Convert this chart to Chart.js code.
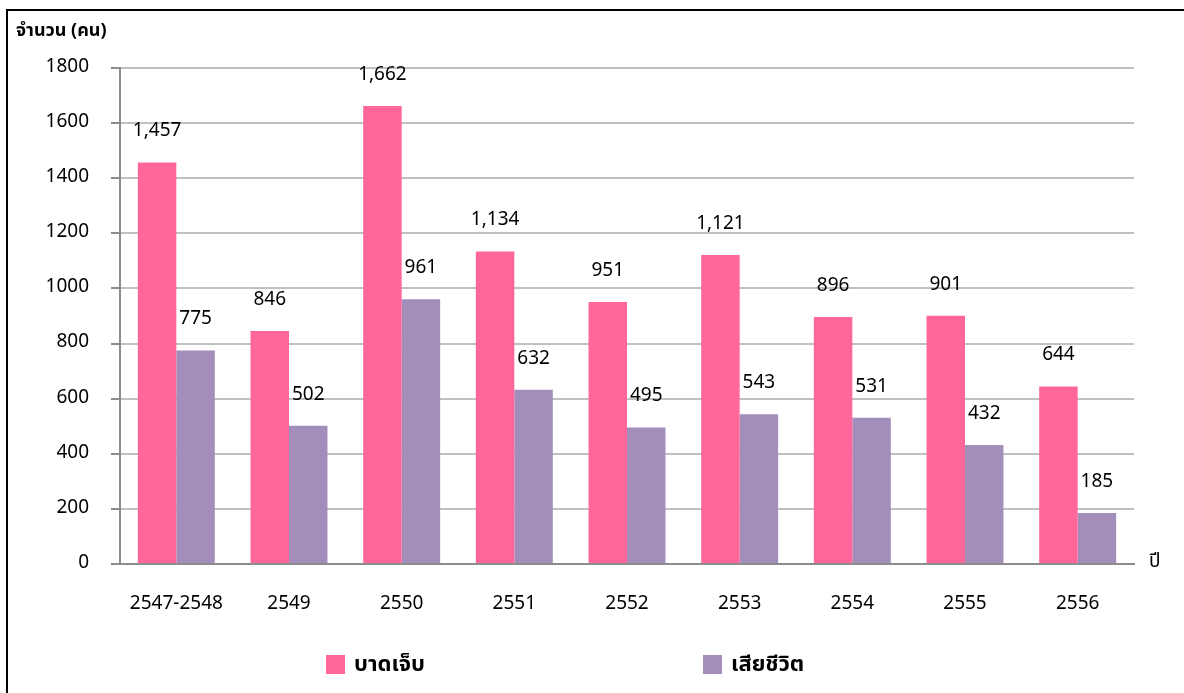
<!DOCTYPE html>
<html>
<head>
<meta charset="utf-8">
<script src="https://cdn.jsdelivr.net/npm/chart.js@4"></script>
<style>
    html, body { margin: 0; padding: 0; background: #fff; }
    body { width: 1184px; height: 693px; position: relative; overflow: hidden; font-family: Tahoma, "Noto Sans Thai", "Noto Sans", sans-serif; }
    .frame { position: absolute; left: 6px; top: 9px; right: -10px; bottom: -10px; border-left: 2px solid #000; border-top: 2px solid #000; }
    .wrap { position: absolute; left: 0; top: 0; width: 1184px; height: 693px; }
    .legend-item { position: absolute; top: 648px; display: flex; align-items: center; font-size: 22px; font-weight: bold; color: #000; }
    .legend-item span.box { display: inline-block; width: 19px; height: 19px; margin-right: 9px; }
</style>
</head>
<body>
<div class="frame"></div>
<div class="wrap"><canvas id="chart" width="1184" height="693"></canvas></div>
<div class="legend-item" style="left:326px"><span class="box" style="background:#FF6699"></span>บาดเจ็บ</div>
<div class="legend-item" style="left:703px"><span class="box" style="background:#A28DBB"></span>เสียชีวิต</div>

<script>
// Chart data
const years = ['2547-2548', '2549', '2550', '2551', '2552', '2553', '2554', '2555', '2556'];
const injured = [1457, 846, 1662, 1134, 951, 1121, 896, 901, 644];
const deaths = [775, 502, 961, 632, 495, 543, 531, 432, 185];
const yTicks = [0, 200, 400, 600, 800, 1000, 1200, 1400, 1600, 1800];

const FONT = 'Tahoma, "Noto Sans Thai", "Noto Sans", sans-serif';

// Draws value labels above bars plus the axis captions
const extraText = {
    id: 'extraText',
    afterDatasetsDraw(chart) {
        const ctx = chart.ctx;
        ctx.save();
        ctx.fillStyle = '#000';
        ctx.font = '19px ' + FONT;
        ctx.textAlign = 'center';
        ctx.textBaseline = 'middle';
        chart.data.datasets.forEach((ds, i) => {
            chart.getDatasetMeta(i).data.forEach((bar, j) => {
                ctx.fillText(ds.data[j].toLocaleString('en-US'), bar.x, bar.y - 30);
            });
        });

        // y axis caption
        ctx.textAlign = 'left';
        ctx.font = 'bold 18px ' + FONT;
        ctx.fillText('จำนวน (คน)', 16, 32);

        // x axis caption
        ctx.font = '19px ' + FONT;
        ctx.fillText('ปี', 1149, chart.chartArea.bottom - 1);
        ctx.restore();
    }
};

const ctx = document.getElementById('chart').getContext('2d');
new Chart(ctx, {
    type: 'bar',
    data: {
        labels: years,
        datasets: [{
            label: 'บาดเจ็บ',
            data: injured,
            backgroundColor: '#FF6699',
            categoryPercentage: 0.683,
            barPercentage: 1.0
        }, {
            label: 'เสียชีวิต',
            data: deaths,
            backgroundColor: '#A28DBB',
            categoryPercentage: 0.683,
            barPercentage: 1.0
        }]
    },
    options: {
        responsive: false,
        animation: false,
        layout: {
            padding: { left: 0, right: 50, top: 68, bottom: 0 }
        },
        plugins: {
            legend: { display: false },
            tooltip: { enabled: false }
        },
        scales: {
            x: {
                grid: { display: false, drawTicks: false },
                border: { display: true, color: '#8c8c8c', width: 2 },
                ticks: {
                    color: '#000',
                    font: { family: FONT, size: 19 },
                    padding: 30,
                    maxRotation: 0
                },
                afterFit: s => { s.height = 129; }
            },
            y: {
                min: 0,
                max: 1800,
                afterBuildTicks: s => { s.ticks = yTicks.map(v => ({ value: v })); },
                grid: { color: '#c0c0c0', lineWidth: 2, tickLength: 9, tickColor: '#8c8c8c' },
                border: { display: true, color: '#8c8c8c', width: 2 },
                ticks: {
                    color: '#000',
                    font: { family: FONT, size: 19 },
                    padding: 22,
                    callback: v => String(v)
                },
                afterFit: s => { s.width = 120; }
            }
        }
    },
    plugins: [extraText]
});
</script>
</body>
</html>
